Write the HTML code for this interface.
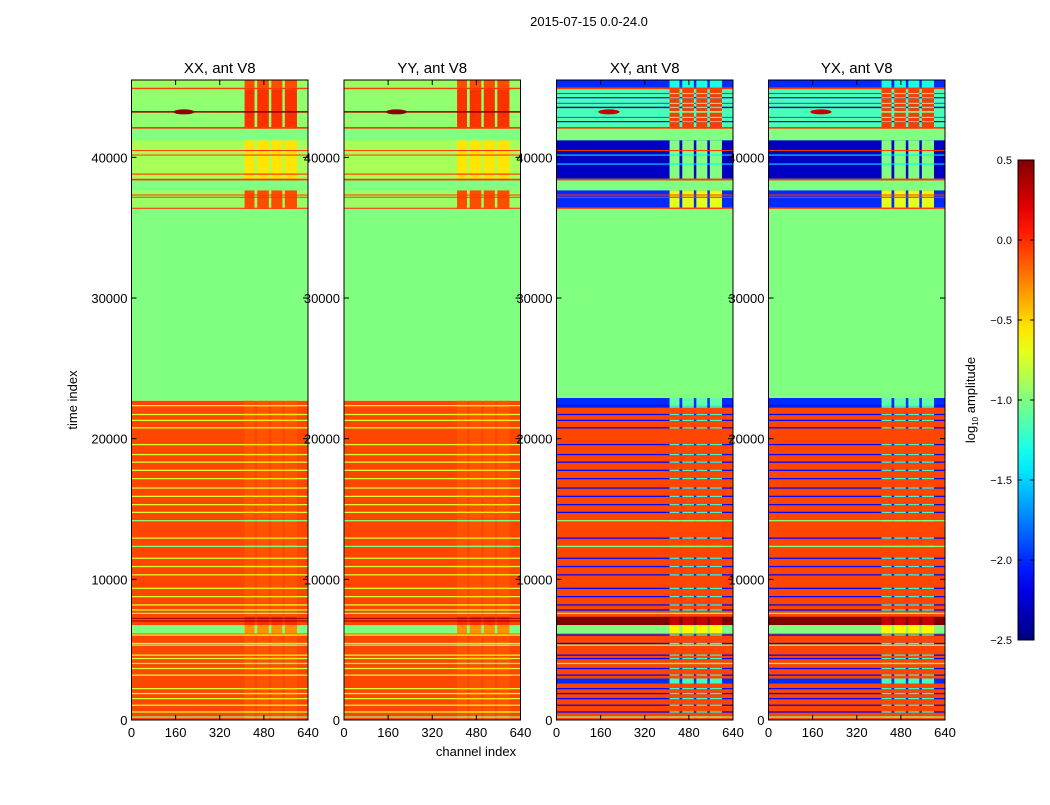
<!DOCTYPE html>
<html><head><meta charset="utf-8"><style>
body{margin:0;background:#fff;}
svg text{font-family:"Liberation Sans","DejaVu Sans",sans-serif;}
</style></head><body>
<svg id="fig" width="1050" height="800" xmlns="http://www.w3.org/2000/svg">
<rect width="1050" height="800" fill="#fff"/>
<text x="589" y="26" font-size="13" text-anchor="middle">2015-07-15 0.0-24.0</text>
<text x="0" y="0" font-size="13" text-anchor="middle" transform="translate(77,400) rotate(-90)">time index</text>
<text x="476" y="756" font-size="13" text-anchor="middle">channel index</text>
<g id="panels"></g>
<g id="cbar"></g>
</svg>
<script>
const xTicks=[0,160,320,480,640];
const yTicks=[0,10000,20000,30000,40000];
const cbTicks=[0.5,0.0,-0.5,-1.0,-1.5,-2.0,-2.5];
const cbTickLabels=["0.5","0.0","\u22120.5","\u22121.0","\u22121.5","\u22122.0","\u22122.5"];
const panelTitles=["XX, ant V8","YY, ant V8","XY, ant V8","YX, ant V8"];
const stripeT=[22350,21720,21300,20770,19580,18870,18330,17750,17160,16490,15900,15310,14760,12930,11500,10910,10320,9360,8770,8180,7820,6040,5440,4610,4370,3660,3190,2230,1880,1520,1050,570];
const greenT=[14170,12340,7580,5320,4020,210];
const brightCols=[[410,446],[456,498],[507,547],[556,600]];
const parBands=[[0,22700,-0.08,-0.12],[6750,7340,-0.08,0.0],[7000,7080,0.4,0.4],[7200,7260,0.4,0.4],[6150,6750,-1,-0.3],
[22700,45500,-1,null],[36420,37650,-0.92,-0.1],[38480,41210,-0.88,-0.55],[42160,44850,-0.95,-0.02],[44950,45500,-0.92,-0.1],
[36340,36420,-0.05,-0.05],[37130,37200,-0.05,-0.05],[37290,37360,-0.05,-0.05],[38360,38480,-0.05,-0.05],[38770,38850,-0.05,-0.05],
[40140,40200,-0.05,-0.05],[40450,40520,-0.05,-0.05],[42040,42160,-0.05,-0.05],[43180,43290,0.4,0.4],[44850,44950,-0.05,-0.05]];
const crossBands=[[0,22700,-0.08,-0.08],[22200,22900,-2.0,-1.1],[2590,2950,-2.0,-1.2],[6750,7340,0.5,0.3],[6150,6750,-1,-0.6],
[22900,45500,-1,null],[36420,37650,-2.0,-0.7],[38480,41210,-2.3,-1.0],[42160,44850,-1.15,-0.05],[44950,45500,-2.0,-1.3],
[42500,42580,-2.2,-1.2],[42800,42880,-1.8,-1.0],[43500,43600,-2.2,-1.2],[43800,43880,-1.8,-1.0],[44200,44280,-2.2,-1.2],[44500,44580,-1.8,-1.0],
[39500,39560,-1.4,-1.4],[40140,40200,-1.4,-1.4],[36340,36420,-0.05,-0.05],[37130,37200,-0.05,-0.05],[37290,37360,-0.05,-0.05],
[38360,38480,-0.05,-0.05],[40450,40520,-0.05,-0.05],[42040,42160,-0.05,-0.05],[43180,43290,-1.2,-1.0],[44850,44950,-0.05,-0.05]];
const parStripe=[-0.75,-0.55], crossStripe=[-2.1,-1.2];
const panelX=[[131.5,308],[344,520.5],[556.5,733],[768.5,945]];
const Y0=720,Y1=80,TMAX=45500,VMIN=-2.5,VMAX=0.5;
const NS="http://www.w3.org/2000/svg";
function jet(v){let x=(v-VMIN)/(VMAX-VMIN);x=Math.max(0,Math.min(1,x));
 const c=f=>Math.round(255*Math.max(0,Math.min(1,f)));
 return `rgb(${c(1.5-Math.abs(4*x-3))},${c(1.5-Math.abs(4*x-2))},${c(1.5-Math.abs(4*x-1))})`;}
function el(t,a,p){const e=document.createElementNS(NS,t);for(const k in a)e.setAttribute(k,a[k]);p.appendChild(e);return e;}
const yS=t=>Y0-(t/TMAX)*(Y0-Y1);
const panels=document.getElementById('panels');
panelX.forEach((px,i)=>{
 const[x0,x1]=px;const xS=c=>x0+c/640*(x1-x0);
 const cross=i>=2;
 let bands=(cross?crossBands:parBands).slice();
 const sv=cross?crossStripe:parStripe;
 stripeT.forEach(t=>bands.splice(5,0,[t-45,t+45,sv[0],sv[1]]));
 greenT.forEach(t=>bands.splice(5,0,[t-45,t+45,-1,-1]));
 const g=el('g',{},panels);
 
 
 bands.forEach(b=>{
  const ya=yS(b[1]),yb=yS(b[0]);
  const r=el('rect',{x:x0,y:ya,width:x1-x0,height:Math.max(1,yb-ya),fill:jet(b[2])},g);
  
  
  if(b[3]!==null){brightCols.forEach(c=>{
   const q=el('rect',{x:xS(c[0]),y:ya,width:xS(c[1])-xS(c[0]),height:Math.max(1,yb-ya),fill:jet(b[3])},g);
   
   });}
 });
 const dm=el('ellipse',{cx:xS(190),cy:yS(43230),rx:(x1-x0)*0.06,ry:2.5,fill:jet(cross?0.3:0.45)},g);
 
 
 const fr=el('rect',{x:x0,y:Y1,width:x1-x0,height:Y0-Y1,fill:'none',stroke:'#000','stroke-width':1},g);
 
 
 const tt=el('text',{x:(x0+x1)/2,y:73,'font-size':15,'text-anchor':'middle'},g);tt.textContent=panelTitles[i];
 
 
 xTicks.forEach(v=>{const x=xS(v);
  el('line',{x1:x,x2:x,y1:Y0,y2:Y0-5,stroke:'#000'},g);el('line',{x1:x,x2:x,y1:Y1,y2:Y1+5,stroke:'#000'},g);
  const t=el('text',{x:x,y:Y0+17,'font-size':13,'text-anchor':'middle'},g);t.textContent=v;
  
  });
 yTicks.forEach(v=>{const y=yS(v);
  el('line',{x1:x0,x2:x0+5,y1:y,y2:y,stroke:'#000'},g);el('line',{x1:x1,x2:x1-5,y1:y,y2:y,stroke:'#000'},g);
  const t=el('text',{x:x0-4,y:y+5,'font-size':13,'text-anchor':'end'},g);t.textContent=v;
  
  });
});
const cb=document.getElementById('cbar');


const CX0=1018,CX1=1034,CY0=640,CY1=160;
const cS=v=>CY0-(v-VMIN)/(VMAX-VMIN)*(CY0-CY1);
const defs=el('defs',{},cb);const lg=el('linearGradient',{id:'jg',x1:0,y1:1,x2:0,y2:0},defs);
for(let k=0;k<=20;k++){el('stop',{offset:k/20,'stop-color':jet(VMIN+k/20*(VMAX-VMIN))},lg);}
el('rect',{x:CX0,y:CY1,width:CX1-CX0,height:CY0-CY1,fill:'url(#jg)',stroke:'#000'},cb);
cbTicks.forEach((v,k)=>{const y=cS(v);
 el('line',{x1:CX0,x2:CX0+4,y1:y,y2:y,stroke:'#000'},cb);el('line',{x1:CX1,x2:CX1-4,y1:y,y2:y,stroke:'#000'},cb);
 const t=el('text',{x:CX0-6,y:y+4,'font-size':11,'text-anchor':'end'},cb);t.textContent=cbTickLabels[k];
 
 });
const cl=el('text',{transform:'translate(975,400) rotate(-90)','font-size':13,'text-anchor':'middle'},cb);
cl.innerHTML='log<tspan font-size="8" dy="3">10</tspan><tspan dy="-3"> amplitude</tspan>';


</script>
</body></html>
